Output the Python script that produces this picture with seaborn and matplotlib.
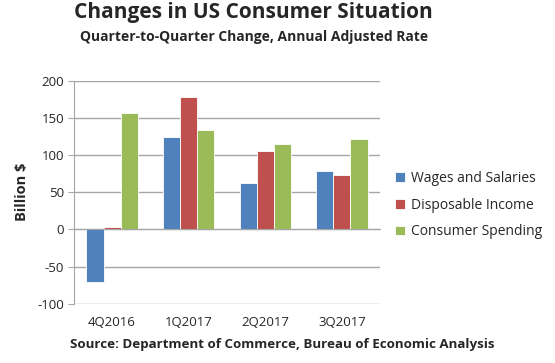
import pandas as pd
import seaborn as sns
import matplotlib.pyplot as plt

# values (billion $)
quarters = ['4Q2016', '1Q2017', '2Q2017', '3Q2017']
wages = [-70, 124, 62, 79]
disposable = [3, 178, 105, 73]
spending = [157, 134, 115, 121]
series_names = ['Wages and Salaries', 'Disposable Income', 'Consumer Spending']
colors = ['#4F81BD', '#C0504D', '#9BBB59']

df = pd.DataFrame({
    'Quarter': quarters * 3,
    'Series': [s for s in series_names for _ in quarters],
    'Value': wages + disposable + spending,
})

sns.set_style('white')
plt.rcParams['font.family'] = ['Open Sans', 'DejaVu Sans']
plt.rcParams['axes.unicode_minus'] = False

fig = plt.figure(figsize=(5.55, 3.63), dpi=100)
ax = fig.add_axes([0.133, 0.163, 0.552, 0.615])

sns.barplot(data=df, x='Quarter', y='Value', hue='Series', order=quarters,
            hue_order=series_names, palette=colors, width=0.67, gap=0,
            edgecolor='white', linewidth=0.6, saturation=1, ax=ax, zorder=3)

ax.set_ylim(-100, 200)
ax.set_yticks(range(-100, 201, 50))
ax.set_xlim(-0.5, 3.5)
ax.yaxis.grid(True, color='#a6a6a6', linewidth=1, zorder=0)
ax.set_axisbelow(True)

for side in ['top', 'right']:
    ax.spines[side].set_visible(False)
ax.spines['left'].set_color('#a6a6a6')
ax.spines['bottom'].set_color('#a6a6a6')
ax.spines['bottom'].set_position(('data', 0))
ax.spines['bottom'].set_zorder(4)

# category separators on the zero line, labels down at the bottom
ax.set_xticks([0.5, 1.5, 2.5, 3.5], minor=True)
ax.tick_params(axis='x', which='minor', length=4, color='#a6a6a6', direction='out')
ax.tick_params(axis='x', which='major', length=0, pad=62, labelsize=9.5)
ax.tick_params(axis='y', length=4, color='#a6a6a6', direction='out', labelsize=9.5, pad=3)
ax.tick_params(axis='y', which='major', left=True)

ax.set_xlabel('')
ax.set_ylabel('Billion $', fontsize=10.5, fontweight='bold', labelpad=6)

fig.text(0.457, 0.965, 'Changes in US Consumer Situation', ha='center', va='center',
         fontsize=15, fontweight='bold')
fig.text(0.457, 0.898, 'Quarter-to-Quarter Change, Annual Adjusted Rate', ha='center',
         va='center', fontsize=10, fontweight='bold')
fig.text(0.508, 0.052, 'Source: Department of Commerce, Bureau of Economic Analysis',
         ha='center', va='center', fontsize=9.6, fontweight='bold')

ax.legend(loc='center left', bbox_to_anchor=(0.69, 0.435), bbox_transform=fig.transFigure,
          frameon=False, fontsize=10, handlelength=0.7, handleheight=0.7,
          handletextpad=0.4, labelspacing=0.85, title=None)

fig.savefig('out.png', dpi=100)
